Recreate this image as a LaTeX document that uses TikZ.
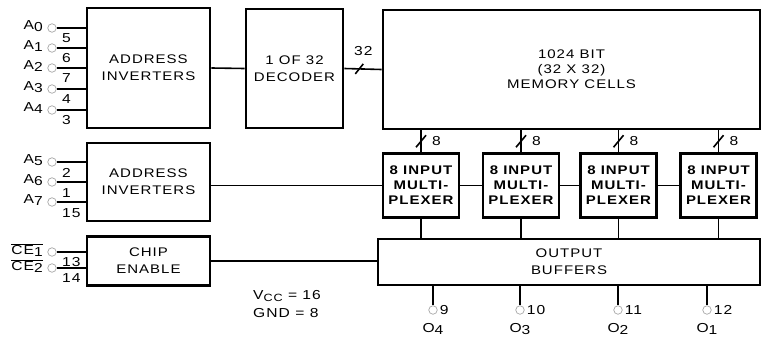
\documentclass[tikz,border=0pt]{standalone}
\usepackage{fontspec}
\setmainfont{Liberation Sans}[FakeStretch=1.2, LetterSpace=8]
\usetikzlibrary{positioning, calc}

\tikzset{
  blk/.style={draw, line width=2.8pt, align=center, inner sep=0pt, font=\fontsize{12.5}{17}\selectfont},
  muxblk/.style={blk, minimum width=76pt, minimum height=64pt, font=\bfseries\fontsize{12.5}{15}\selectfont},
  wire/.style={line width=1.6pt},
  pin/.style={circle, draw=black!35, line width=0.7pt, minimum size=8.5pt, inner sep=0pt},
  pinno/.style={font=\fontsize{13}{13}\selectfont, inner sep=0pt},
}
\newcommand{\sub}[1]{\raisebox{-2.5pt}{#1}}

\begin{document}
\begin{tikzpicture}[x=1pt, y=-1pt]
  \useasboundingbox (0,0) rectangle (766,340);

  % --- Blocks ---
  \node[blk, minimum width=123pt, minimum height=120pt] (ainvA) at (148.5,68) {ADDRESS\\INVERTERS};
  \node[blk, minimum width=97pt, minimum height=119pt] (dec) at (294.5,68.5) {1 OF 32\\DECODER};
  \node[blk, minimum width=377pt, minimum height=119pt, font=\fontsize{12.5}{15}\selectfont] (mem) at (571.5,69.5) {1024 BIT\\(32 X 32)\\MEMORY CELLS};
  \node[blk, minimum width=123pt, minimum height=78pt] (ainvB) at (148.5,182) {ADDRESS\\INVERTERS};
  \node[blk, minimum width=123pt, minimum height=49pt] (ce) at (148.5,261) {CHIP\\ENABLE};
  \node[blk, minimum width=382pt, minimum height=46pt] (obuf) at (569,262) {OUTPUT\\BUFFERS};

  % Multiplexers
  \node[muxblk] (muxA) at (421,185.5) {8 INPUT\\MULTI-\\PLEXER};
  \node[muxblk] (muxB) at (521,185.5) {8 INPUT\\MULTI-\\PLEXER};
  \node[muxblk] (muxC) at (618.5,185.5) {8 INPUT\\MULTI-\\PLEXER};
  \node[muxblk] (muxD) at (718.5,185.5) {8 INPUT\\MULTI-\\PLEXER};

  % --- Address inputs ---
  \foreach \i/\n/\y in {0/5/28, 1/6/48, 2/7/68, 3/4/89, 4/3/110} {
    \node[pin] (pA\i) at (52,\y) {};
    \node[anchor=east, inner sep=0pt, font=\fontsize{13}{13}\selectfont] (lA\i) at (43,\y-2) {A\sub{\i}};
    \draw[wire] (pA\i.east) -- (pA\i.east -| ainvA.west);
    \node[pinno, anchor=west] (nA\i) at (62,\y+10) {\n};
  }
  \foreach \i/\n/\y in {5/2/162, 6/1/182, 7/15/202} {
    \node[pin] (pA\i) at (52,\y) {};
    \node[anchor=east, inner sep=0pt, font=\fontsize{13}{13}\selectfont] (lA\i) at (43,\y-2) {A\sub{\i}};
    \draw[wire] (pA\i.east) -- (pA\i.east -| ainvB.west);
    \node[pinno, anchor=west] (nA\i) at (62,\y+11) {\n};
  }

  % Chip enables
  \foreach \i/\n/\y in {1/13/252, 2/14/268} {
    \node[pin] (pCE\i) at (52,\y) {};
    \node[anchor=east, inner sep=0pt, font=\fontsize{13}{13}\selectfont] (lCE\i) at (43,\y-2) {$\overline{\hbox{CE\sub{\i}}}$};
    \draw[wire] (pCE\i.east) -- (pCE\i.east -| ce.west);
    \node[pinno, anchor=west] (nCE\i) at (62,\y+10) {\n};
  }

  % --- Internal connections ---
  \draw[wire] (ainvA.east) -- (dec.west);
  \draw[wire] (dec.east) -- (mem.west);
  \coordinate (busA) at ($(dec.east)!0.4!(mem.west)$);
  \draw[wire] ([shift={(-4,5)}]busA) -- ([shift={(4,-5)}]busA);
  \node[pinno] (nBus) at ([shift={(4,-18)}]busA) {32};

  \draw[wire] (muxA.west -| ainvB.east) -- (muxA.west);
  \draw[wire] (muxA.east) -- (muxB.west);
  \draw[wire] (muxB.east) -- (muxC.west);
  \draw[wire] (muxC.east) -- (muxD.west);
  \draw[wire] (ce.east) -- (ce.east -| obuf.west);

  \foreach \m in {muxA, muxB, muxC, muxD} {
    \draw[wire] (\m.north |- mem.south) -- (\m.north);
    \coordinate (s\m) at ($(\m.north |- mem.south)!0.5!(\m.north)$);
    \draw[wire] ([shift={(-5,6)}]s\m) -- ([shift={(5,-6)}]s\m);
    \node[pinno, anchor=west] (n\m) at ([shift={(11,0)}]s\m) {8};
    \draw[wire] (\m.south) -- (\m.south |- obuf.north);
  }

  % --- Outputs ---
  \foreach \k/\n/\x in {4/9/433, 3/10/520, 2/11/618, 1/12/707} {
    \node[pin] (pO\k) at (\x,310) {};
    \draw[wire] (pO\k.north |- obuf.south) -- (pO\k.north);
    \node[pinno, anchor=west] (nO\k) at ([xshift=2pt]pO\k.east) {\n};
    \node[pinno] (lO\k) at (\x,329) {O\sub{\k}};
  }

  % Supply note
  \node[pinno, anchor=west] (vcc) at (253,296) {V\sub{\fontsize{10.5}{10.5}\selectfont CC} = 16};
  \node[pinno, anchor=west] (gnd) at (253,313) {GND = 8};
\end{tikzpicture}
\end{document}
